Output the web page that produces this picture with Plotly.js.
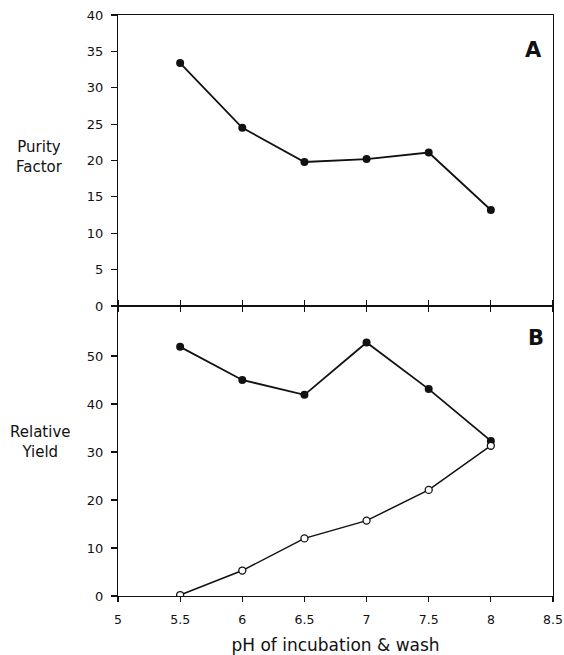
<!DOCTYPE html>
<html>
<head>
<meta charset="utf-8">
<script src="https://cdn.plot.ly/plotly-3.0.1.min.js"></script>
<style>html,body{margin:0;padding:0;background:#fff;}#chart{width:564px;height:655px;}</style>
</head>
<body>
<div id="chart"></div>
<script>
// Data
var pH = [5.5, 6, 6.5, 7, 7.5, 8];
var purityFactor = [33.4, 24.5, 19.8, 20.2, 21.1, 13.2];
var yieldFilled = [51.9, 45.0, 41.9, 52.8, 43.1, 32.3];
var yieldOpen = [0.2, 5.3, 12.0, 15.7, 22.1, 31.3];
var xTicks = [5, 5.5, 6, 6.5, 7, 7.5, 8, 8.5];
var xTickText = ["5", "5.5", "6", "6.5", "7", "7.5", "8", "8.5"];
var yTicksA = [0, 5, 10, 15, 20, 25, 30, 35, 40];
var yTicksB = [0, 10, 20, 30, 40, 50];

var FONT = "DejaVu Sans, Arial, sans-serif";
var INK = "#111";

var traces = [
  {x: pH, y: purityFactor, xaxis: "x2", yaxis: "y2", mode: "lines+markers", type: "scatter",
   line: {color: INK, width: 1.8}, marker: {color: INK, size: 8, symbol: "circle"}},
  {x: pH, y: yieldFilled, xaxis: "x", yaxis: "y", mode: "lines+markers", type: "scatter",
   line: {color: INK, width: 1.8}, marker: {color: INK, size: 8, symbol: "circle"}},
  {x: pH, y: yieldOpen, xaxis: "x", yaxis: "y", mode: "lines+markers", type: "scatter",
   line: {color: INK, width: 1.5}, marker: {color: "#fff", size: 7, symbol: "circle", line: {color: INK, width: 1.3}}}
];

var tickFont = {family: FONT, size: 13, color: INK};
var xTickFont = {family: FONT, size: 12.5, color: INK};
var split = 0.4991;

var layout = {
  width: 564, height: 655,
  margin: {l: 118, r: 11, t: 15, b: 59},
  paper_bgcolor: "#fff", plot_bgcolor: "#fff",
  showlegend: false,
  xaxis: {domain: [0, 1], anchor: "y", range: [5, 8.5], tickvals: xTicks, ticktext: xTickText,
    showgrid: false, zeroline: false, showline: true, linecolor: INK, linewidth: 1.2, mirror: "ticks",
    ticks: "outside", ticklen: 5, tickcolor: INK, tickwidth: 1.2, tickfont: xTickFont, ticklabelstandoff: 7,
    ticklabeloverflow: "allow",
    title: {text: "pH of incubation & wash", font: {family: FONT, size: 17, color: INK}, standoff: 12}},
  yaxis: {domain: [0, split], anchor: "x", range: [0, 60.4], tickvals: yTicksB,
    showgrid: false, zeroline: false, showline: true, linecolor: INK, linewidth: 1.2, mirror: true,
    ticks: "outside", ticklen: 6, tickcolor: INK, tickwidth: 1.2, tickfont: tickFont, ticklabelstandoff: 5},
  xaxis2: {domain: [0, 1], anchor: "y2", range: [5, 8.5], tickvals: xTicks, showticklabels: false,
    showgrid: false, zeroline: false, showline: true, linecolor: INK, linewidth: 1.2, mirror: true,
    ticks: "outside", ticklen: 5, tickcolor: INK, tickwidth: 1.2},
  yaxis2: {domain: [split, 1], anchor: "x2", range: [0, 40], tickvals: yTicksA,
    showgrid: false, zeroline: false, showline: true, linecolor: INK, linewidth: 1.2, mirror: true,
    ticks: "outside", ticklen: 6, tickcolor: INK, tickwidth: 1.2, tickfont: tickFont, ticklabelstandoff: 5},
  annotations: [
    {text: "Purity<br>Factor", xref: "paper", yref: "paper", x: -0.18, y: 0.756, xanchor: "center", yanchor: "middle",
     showarrow: false, align: "center", font: {family: FONT, size: 15, color: INK}},
    {text: "Relative<br>Yield", xref: "paper", yref: "paper", x: -0.178, y: 0.265, xanchor: "center", yanchor: "middle",
     showarrow: false, align: "center", font: {family: FONT, size: 15, color: INK}},
    {text: "<b>A</b>", xref: "paper", yref: "paper", x: 0.955, y: 0.94, xanchor: "center", yanchor: "middle",
     showarrow: false, font: {family: FONT, size: 21, color: INK}},
    {text: "<b>B</b>", xref: "paper", yref: "paper", x: 0.962, y: 0.444, xanchor: "center", yanchor: "middle",
     showarrow: false, font: {family: FONT, size: 21, color: INK}}
  ]
};

Plotly.newPlot("chart", traces, layout, {displayModeBar: false, staticPlot: true});
</script>
</body>
</html>
